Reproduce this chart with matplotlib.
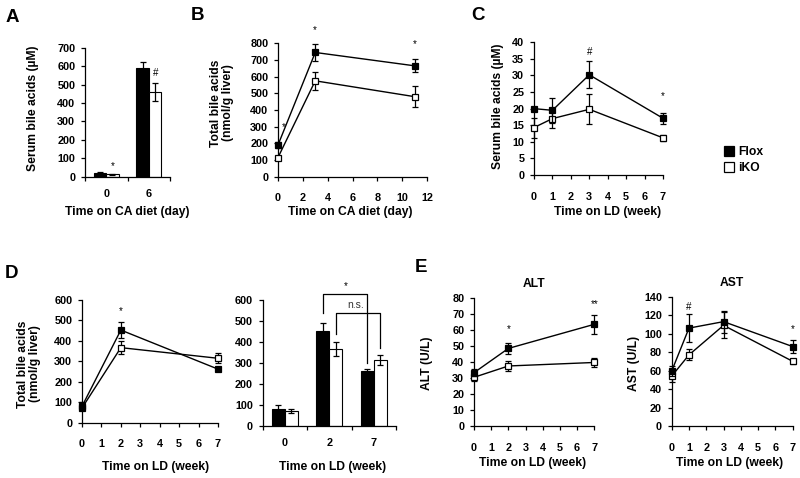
import matplotlib
matplotlib.use('Agg')
import matplotlib.pyplot as plt
from matplotlib.lines import Line2D
import numpy as np

plt.rcParams['font.family'] = ['Liberation Sans', 'DejaVu Sans']
plt.rcParams['font.weight'] = 'bold'
plt.rcParams['axes.linewidth'] = 0.9

W, H = 800, 478

# ---- data ----
# A: serum bile acids on CA diet (bars)
a_days = ['0', '6']
a_flox = [20, 590]
a_flox_err = [3, 35]
a_ko = [13, 460]
a_ko_err = [3, 50]

# B: total liver bile acids on CA diet
b_days = [0, 3, 11]
b_flox = [190, 745, 665]
b_flox_err = [20, 50, 40]
b_ko = [115, 575, 480]
b_ko_err = [10, 55, 65]

# C: serum bile acids on LD
c_weeks = [0, 1, 3, 7]
c_flox = [20, 19.5, 30.2, 17.1]
c_flox_err = [0.5, 3.8, 4.1, 1.6]
c_ko = [14.3, 17, 19.8, 11.2]
c_ko_err = [3, 2.7, 4.5, 1.0]

# D: total liver bile acids on LD
d_weeks = [0, 2, 7]
d_labels = ['0', '2', '7']
d_flox = [80, 453, 262]
d_flox_err = [20, 38, 8]
d_ko = [72, 367, 315]
d_ko_err = [10, 33, 25]

# E: ALT / AST
alt_weeks = [0, 2, 7]
alt_flox = [33.4, 48.6, 63.7]
alt_flox_err = [2, 3.2, 5.8]
alt_ko = [30.5, 37.6, 39.8]
alt_ko_err = [2, 3.4, 3]

ast_weeks = [0, 1, 3, 7]
ast_flox = [59.5, 106, 113, 86]
ast_flox_err = [5, 15, 12, 7.5]
ast_ko = [54, 77, 109, 70]
ast_ko_err = [6, 6, 14, 3]


fig = plt.figure(figsize=(8, 4.78), dpi=100)


def box(x0, y0, x1, y1):
    return fig.add_axes([x0 / W, 1 - y1 / H, (x1 - x0) / W, (y1 - y0) / H])


def style(ax):
    for s in ['top', 'right']:
        ax.spines[s].set_visible(False)
    ax.tick_params(axis='both', direction='out', length=3, width=0.9, labelsize=7.8)
    ax.tick_params(axis='x', pad=9)
    ax.tick_params(axis='y', pad=4)
    ax.tick_params(which='minor', direction='out', length=3, width=0.9)


def labels(ax, xl, xpos, yl, ypos):
    ax.set_xlabel(xl, fontsize=8.7, fontweight='bold')
    ax.xaxis.set_label_coords(xpos[0] / W, 1 - xpos[1] / H, transform=fig.transFigure)
    ax.xaxis.label.set_va('center')
    ax.set_ylabel(yl, fontsize=8.7, fontweight='bold', linespacing=1.1)
    ax.yaxis.set_label_coords(ypos[0] / W, 1 - ypos[1] / H, transform=fig.transFigure)
    ax.yaxis.label.set_va('center')


def lines(ax, x, f, fe, k, ke):
    ax.errorbar(x, k, yerr=ke, color='black', lw=1, marker='s', ms=4.5, mfc='white',
                mec='black', mew=0.9, capsize=2.5, capthick=0.9, elinewidth=0.9, zorder=3,
                clip_on=False)
    ax.errorbar(x, f, yerr=fe, color='black', lw=1, marker='s', ms=4.5, mfc='black',
                mec='black', mew=0.9, capsize=2.5, capthick=0.9, elinewidth=0.9, zorder=4,
                clip_on=False)


def bars(ax, f, fe, k, ke):
    x = np.arange(len(f))
    w = 0.29
    ax.bar(x - w / 2, f, w, color='black', edgecolor='black', lw=0.8,
           yerr=fe, capsize=2.5, error_kw=dict(elinewidth=0.9, capthick=0.9))
    ax.bar(x + w / 2, k, w, color='white', edgecolor='black', lw=0.8,
           yerr=ke, capsize=2.5, error_kw=dict(elinewidth=0.9, capthick=0.9))
    ax.set_xlim(-0.5, len(f) - 0.5)
    ax.set_xticks(x)
    ax.tick_params(axis='x', which='major', length=0)
    ax.set_xticks(np.arange(len(f) + 1) - 0.5, minor=True)


def sig(ax, x, y, s, size=7):
    ax.text(x, y, s, ha='center', va='center', fontsize=size, fontweight='normal',
            clip_on=False)


# ---- A ----
ax = box(85, 47.7, 170, 176.7)
style(ax)
bars(ax, a_flox, a_flox_err, a_ko, a_ko_err)
ax.set_xticklabels(a_days)
ax.set_ylim(0, 700)
ax.set_yticks(range(0, 701, 100))
sig(ax, 0.15, 60, '*')
sig(ax, 1.17, 565, '#')
labels(ax, 'Time on CA diet (day)', (127, 212), 'Serum bile acids (µM)', (33, 108))

# ---- B ----
ax = box(278, 43.3, 427, 176.7)
style(ax)
lines(ax, b_days, b_flox, b_flox_err, b_ko, b_ko_err)
ax.set_xlim(0, 12)
ax.set_xticks(range(0, 13, 2))
ax.set_ylim(0, 800)
ax.set_yticks(range(0, 801, 100))
sig(ax, 0.45, 300, '*')
sig(ax, 3, 880, '*')
sig(ax, 11, 795, '*')
labels(ax, 'Time on CA diet (day)', (350, 212), 'Total bile acids\n(nmol/g liver)', (222, 103))

# ---- C ----
ax = box(534, 42.3, 663, 175)
style(ax)
lines(ax, c_weeks, c_flox, c_flox_err, c_ko, c_ko_err)
ax.set_xlim(0, 7)
ax.set_xticks(range(0, 8))
ax.set_ylim(0, 40)
ax.set_yticks(range(0, 41, 5))
sig(ax, 3, 37.2, '#')
sig(ax, 7, 23.8, '*')
labels(ax, 'Time on LD (week)', (608, 212), 'Serum bile acids (µM)', (498, 106))

handles = [Line2D([], [], ls='none', marker='s', ms=7, mfc='black', mec='black', mew=0.9),
           Line2D([], [], ls='none', marker='s', ms=7, mfc='white', mec='black', mew=0.9)]
fig.legend(handles, ['Flox', 'iKO'], loc='upper left', bbox_to_anchor=(724 / W, 1 - 146 / H),
           frameon=False, handlelength=0.8, handletextpad=0.4, labelspacing=0.35,
           borderaxespad=0, borderpad=0, prop=dict(size=8.7, weight='bold'))

# ---- D left ----
ax = box(82, 300, 218, 422.7)
style(ax)
lines(ax, d_weeks, d_flox, d_flox_err, d_ko, d_ko_err)
ax.set_xlim(0, 7)
ax.set_xticks(range(0, 8))
ax.set_ylim(0, 600)
ax.set_yticks(range(0, 601, 100))
sig(ax, 2, 548, '*')
labels(ax, 'Time on LD (week)', (156, 467), 'Total bile acids\n(nmol/g liver)', (29, 364))

# ---- D right ----
ax = box(262.7, 300, 396, 426)
style(ax)
bars(ax, d_flox, d_flox_err, d_ko, d_ko_err)
ax.set_xticklabels(d_labels)
ax.set_ylim(0, 600)
ax.set_yticks(range(0, 601, 100))
w = 0.29
ax.plot([1 - w / 2, 1 - w / 2, 2 - w / 2, 2 - w / 2], [536, 627, 627, 298],
        color='black', lw=0.9, clip_on=False)
ax.plot([1 + w / 2, 1 + w / 2, 2 + w / 2, 2 + w / 2], [438, 536, 536, 370],
        color='black', lw=0.9, clip_on=False)
sig(ax, 1.37, 667, '*')
ax.text(1.6, 578, 'n.s.', ha='center', va='center', fontsize=7.5, fontweight='normal',
        color='#333333')
ax.set_xlabel('Time on LD (week)', fontsize=8.7, fontweight='bold')
ax.xaxis.set_label_coords(333 / W, 1 - 467 / H, transform=fig.transFigure)
ax.xaxis.label.set_va('center')

# ---- E ALT ----
ax = box(474, 298.3, 594.3, 426)
style(ax)
lines(ax, alt_weeks, alt_flox, alt_flox_err, alt_ko, alt_ko_err)
ax.set_xlim(0, 7)
ax.set_xticks(range(0, 8))
ax.set_ylim(0, 80)
ax.set_yticks(range(0, 81, 10))
sig(ax, 2, 60.8, '*')
sig(ax, 7, 76.5, '**')
ax.set_title('ALT', fontsize=8.7, fontweight='bold', pad=8)
labels(ax, 'Time on LD (week)', (533, 463), 'ALT (U/L)', (427, 363))

# ---- E AST ----
ax = box(671.7, 296.7, 792.7, 426)
style(ax)
lines(ax, ast_weeks, ast_flox, ast_flox_err, ast_ko, ast_ko_err)
ax.set_xlim(0, 7)
ax.set_xticks(range(0, 8))
ax.set_ylim(0, 140)
ax.set_yticks(range(0, 141, 20))
sig(ax, 1, 128.5, '#')
sig(ax, 7, 104.6, '*')
ax.set_title('AST', fontsize=8.7, fontweight='bold', pad=8)
labels(ax, 'Time on LD (week)', (730, 463), 'AST (U/L)', (634, 363))

# panel letters
for lt, px, py in [('A', 12, 17), ('B', 198, 15), ('C', 478, 15), ('D', 12, 273), ('E', 421, 268)]:
    fig.text(px / W, 1 - py / H, lt, fontsize=13.5, fontweight='bold', ha='center', va='center')

fig.savefig('out.png', dpi=100)
